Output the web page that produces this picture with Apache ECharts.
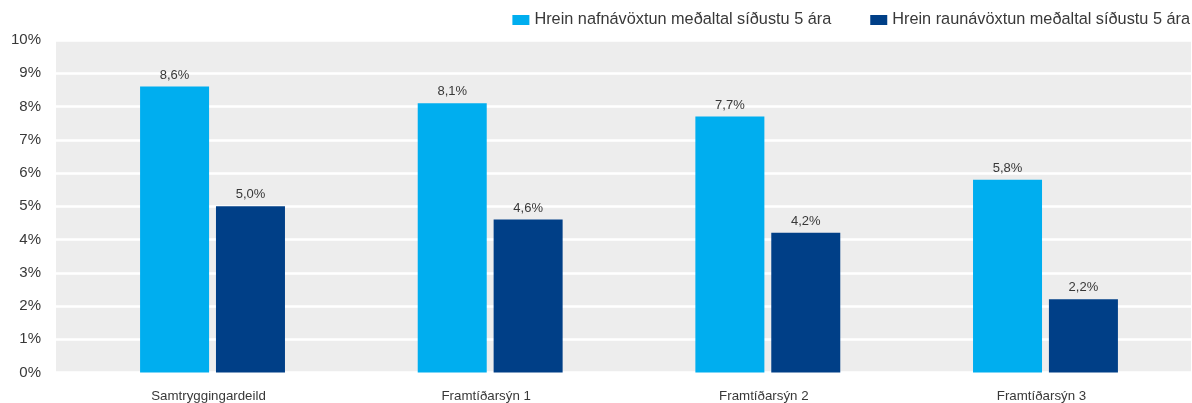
<!DOCTYPE html>
<html>
<head>
<meta charset="utf-8">
<script src="https://cdn.jsdelivr.net/npm/echarts@6/dist/echarts.min.js"></script>
<style>
  html, body { margin: 0; padding: 0; background: #fff; }
  #chart { width: 1192px; height: 403px; }
</style>
</head>
<body>
<div id="chart"></div>
<script>
  // gögn
  const categories = ['Samtryggingardeild', 'Framtíðarsýn 1', 'Framtíðarsýn 2', 'Framtíðarsýn 3']
  const nafnName = 'Hrein nafnávöxtun meðaltal síðustu 5 ára'
  const raunName = 'Hrein raunávöxtun meðaltal síðustu 5 ára'
  const nafnValues = [8.6, 8.1, 7.7, 5.8]
  const raunValues = [5.0, 4.6, 4.2, 2.2]
  const yMin = 0
  const yMax = 10
  const yStep = 1

  const font = 'Liberation Sans, Arial, sans-serif'
  const pct = (v) => v.toFixed(1).replace('.', ',') + '%'

  let chart = echarts.init(document.getElementById('chart'))

  let option = {
    animation: false,
    textStyle: { fontFamily: font },
    legend: {
      data: [nafnName, raunName],
      right: 2,
      top: 12,
      padding: 0,
      itemWidth: 17,
      itemHeight: 10,
      itemGap: 39,
      icon: 'rect',
      textStyle: { fontSize: 16.3, color: '#383838', fontFamily: font }
    },
    grid: [
      // bakgrunnur og ás
      { left: 56, right: 1, top: 40, bottom: 30.5, show: true, backgroundColor: '#ededed', borderWidth: 0 },
      // súlur
      { left: 73.7, right: 7.7, top: 40, bottom: 30.5 }
    ],
    xAxis: [
      { gridIndex: 0, type: 'category', data: categories, show: false },
      {
        gridIndex: 1,
        type: 'category',
        data: categories,
        axisLine: { show: false },
        axisTick: { show: false },
        axisLabel: { fontSize: 13.3, color: '#383838', margin: 17, padding: [0, 8, 0, 0], fontFamily: font }
      }
    ],
    yAxis: [
      {
        gridIndex: 0,
        type: 'value',
        min: yMin,
        max: yMax,
        interval: yStep,
        axisLine: { show: false },
        axisTick: { show: false },
        axisLabel: { fontSize: 15, color: '#383838', margin: 15, formatter: (v) => v + '%', fontFamily: font },
        splitLine: { lineStyle: { color: '#ffffff', width: 2.5 } }
      },
      { gridIndex: 1, type: 'value', min: yMin, max: yMax, interval: yStep, show: false, splitLine: { show: false } }
    ],
    series: [
      {
        name: nafnName,
        type: 'bar',
        xAxisIndex: 1,
        yAxisIndex: 1,
        data: nafnValues,
        barWidth: 69,
        barGap: '10%',
        itemStyle: { color: '#00aeef' },
        label: { show: true, position: 'top', distance: 5, fontSize: 13, color: '#383838', formatter: (p) => pct(p.value), fontFamily: font }
      },
      {
        name: raunName,
        type: 'bar',
        xAxisIndex: 1,
        yAxisIndex: 1,
        data: raunValues,
        barWidth: 69,
        barGap: '10%',
        itemStyle: { color: '#003f87' },
        label: { show: true, position: 'top', distance: 5, fontSize: 13, color: '#383838', formatter: (p) => pct(p.value), fontFamily: font }
      }
    ]
  }

  chart.setOption(option)
</script>
</body>
</html>
